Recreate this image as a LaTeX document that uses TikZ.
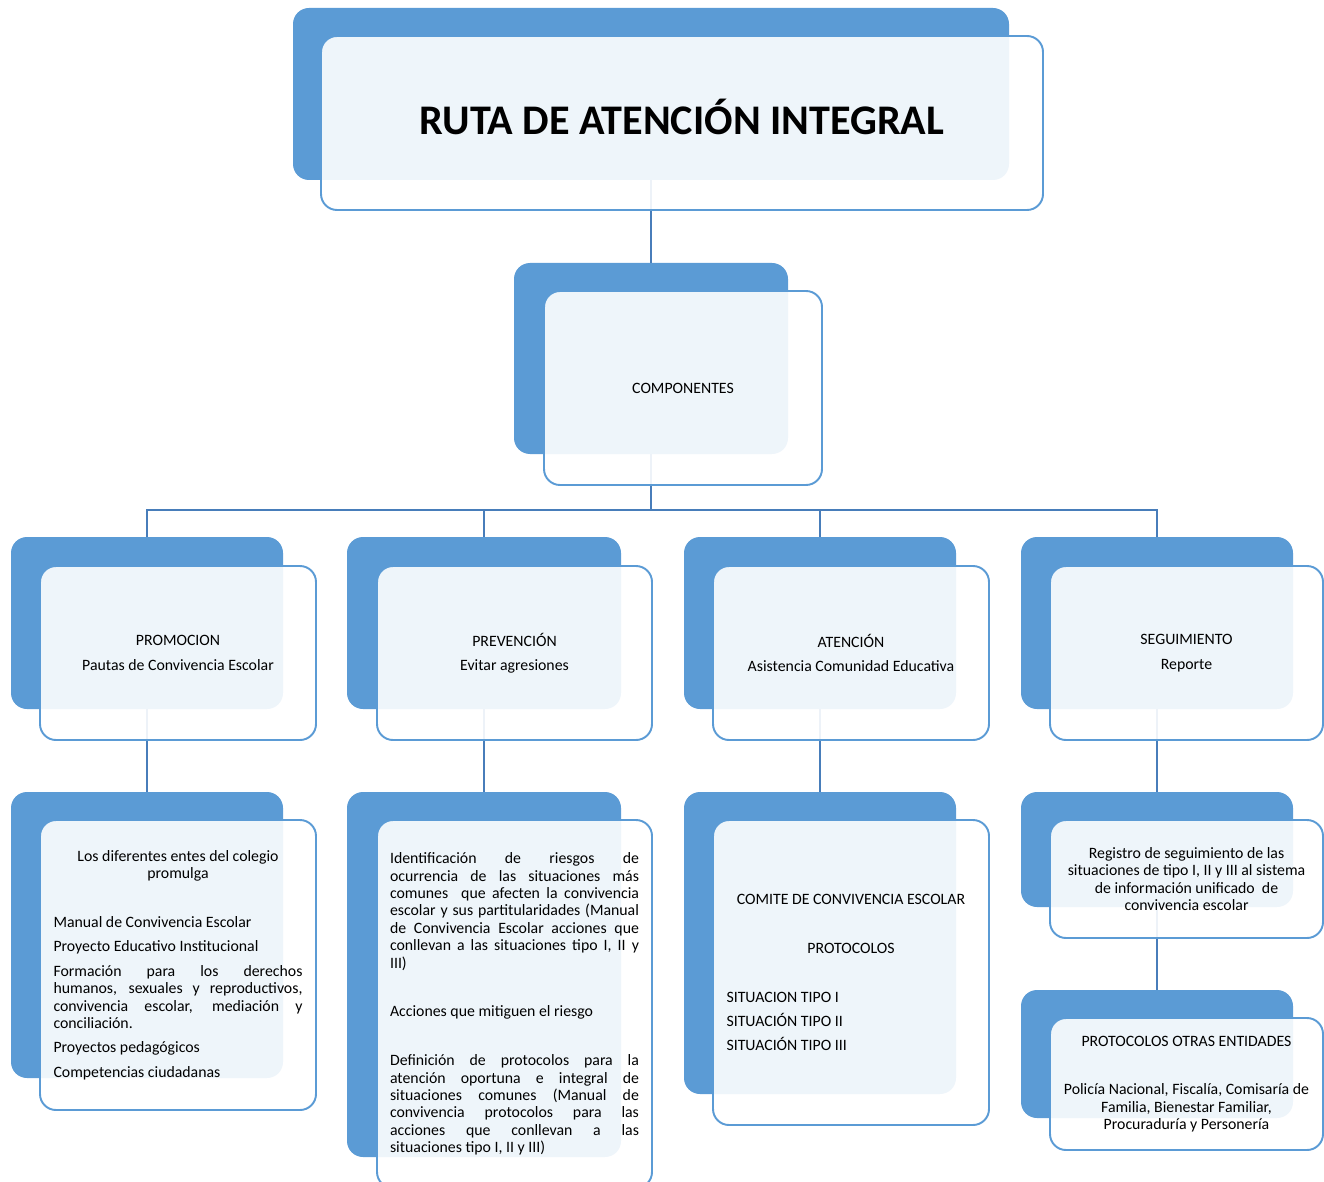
\documentclass[tikz,border=0pt]{standalone}
\usepackage{fontspec}
\setmainfont{Carlito}
\usetikzlibrary{fit}

\definecolor{boxblue}{RGB}{91,155,213}
\definecolor{lineblue}{RGB}{72,125,186}

\newcommand{\blankrow}{\par\leavevmode\par}

\begin{document}
\begin{tikzpicture}[x=0.02cm, y=-0.02cm,
  back/.style={fill=boxblue, rounded corners=0.32cm, inner sep=0pt},
  front/.style={draw=boxblue, line width=1.1pt, rounded corners=0.32cm, fill=white, fill opacity=0.9, inner sep=0pt},
  txt/.style={inner sep=0pt, text width=4.98cm, align=flush center, font=\fontsize{9}{9.9}\selectfont, execute at begin node={\setlength{\parskip}{4pt}\hyphenpenalty=10000\tolerance=10000}},
  conn/.style={draw=lineblue, line width=1.1pt}]

\useasboundingbox (0,0) rectangle (1324,1182);

\node[back, fit={(293,8) (1009,180)}] (title-b) {};

\node[back, fit={(514,263) (788,454)}] (comp-b) {};

\node[back, fit={(11,537) (283,709)}] (promo-b) {};
\node[back, fit={(347,537) (621,709)}] (preve-b) {};
\node[back, fit={(684,537) (956,709)}] (aten-b) {};
\node[back, fit={(1021,537) (1293,709)}] (segui-b) {};

\node[back, fit={(11,792) (283,1078)}] (entes-b) {};
\node[back, fit={(347,792) (621,1157)}] (riesgo-b) {};
\node[back, fit={(684,792) (956,1094)}] (comite-b) {};
\node[back, fit={(1021,792) (1293,907)}] (registro-b) {};
\node[back, fit={(1021,990) (1293,1118)}] (otras-b) {};

\coordinate (bus) at (651,510);

\draw[conn] (title-b.south) -- (comp-b.north);
\draw[conn] (comp-b.south) -- (bus);
\foreach \k in {promo,preve,aten,segui}
  \draw[conn] (bus) -| (\k-b.north);

\draw[conn] (promo-b.south) -- (entes-b.north);
\draw[conn] (preve-b.south) -- (riesgo-b.north);
\draw[conn] (aten-b.south) -- (comite-b.north);
\draw[conn] (segui-b.south) -- (registro-b.north);
\draw[conn] (registro-b.south) -- (otras-b.north);

\node[front, fit={(321,36) (1043,210)}] (title) {};
\node[front, fit={(544,291) (822,485)}] (comp) {};
\node[front, fit={(40,566) (316,740)}] (promo) {};
\node[front, fit={(377,566) (652,740)}] (preve) {};
\node[front, fit={(713,566) (989,740)}] (aten) {};
\node[front, fit={(1050,566) (1323,740)}] (segui) {};
\node[front, fit={(40,820) (316,1110)}] (entes) {};
\node[front, fit={(377,820) (652,1188)}] (riesgo) {};
\node[front, fit={(713,820) (989,1125)}] (comite) {};
\node[front, fit={(1050,820) (1323,938)}] (registro) {};
\node[front, fit={(1050,1018) (1323,1150)}] (otras) {};

\node[txt, text width=14cm, font=\fontsize{24}{28}\selectfont\bfseries, yshift=0.12cm] (title-t) at (title) {RUTA DE ATENCIÓN INTEGRAL};

\node[txt] (comp-t) at (comp) {COMPONENTES};

\node[txt] (promo-t) at (promo) {PROMOCION\par Pautas de Convivencia Escolar};
\node[txt] (preve-t) at (preve) {PREVENCIÓN\par Evitar agresiones};
\node[txt] (aten-t) at (aten) {ATENCIÓN\par Asistencia Comunidad Educativa};
\node[txt] (segui-t) at (segui) {SEGUIMIENTO\par Reporte};

\node[txt, align=justify] (entes-t) at (entes) {{\centering Los diferentes entes del colegio\\ promulga\par}
\blankrow
Manual de Convivencia Escolar\par
Proyecto Educativo Institucional\par
Formación para los derechos\linebreak humanos, sexuales y reproductivos,\linebreak convivencia escolar, mediación y\linebreak conciliación.\par
Proyectos pedagógicos\par
Competencias ciudadanas};

\node[txt, align=justify] (riesgo-t) at (riesgo) {Identificación de riesgos de\linebreak ocurrencia de las situaciones más\linebreak comunes\ \ que afecten la convivencia\linebreak escolar y sus partitularidades (Manual\linebreak de Convivencia Escolar acciones que\linebreak conllevan a las situaciones tipo I, II y\linebreak III)
\blankrow
Acciones que mitiguen el riesgo
\blankrow
Definición de protocolos para la\linebreak atención oportuna e integral de\linebreak situaciones comunes (Manual de\linebreak convivencia protocolos para las\linebreak acciones que conllevan a las\linebreak situaciones tipo I, II y III)};

\node[txt, align=flush left] (comite-t) at (comite) {{\centering COMITE DE CONVIVENCIA ESCOLAR\blankrow PROTOCOLOS\par}
\blankrow
SITUACION TIPO I\par
SITUACIÓN TIPO II\par
SITUACIÓN TIPO III};

\node[txt] (registro-t) at (registro) {Registro de seguimiento de las\\ situaciones de tipo I, II y III al sistema\\ de información unificado\ \ de\\ convivencia escolar};

\node[txt] (otras-t) at (otras) {PROTOCOLOS OTRAS ENTIDADES\blankrow Policía Nacional, Fiscalía, Comisaría de\\ Familia, Bienestar Familiar,\\ Procuraduría y Personería};

\end{tikzpicture}
\end{document}
